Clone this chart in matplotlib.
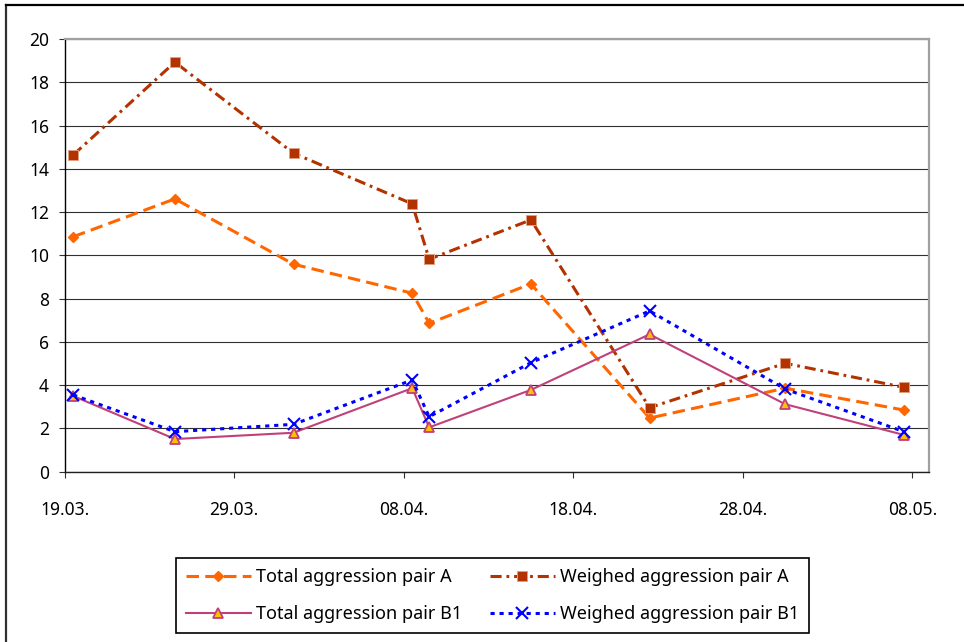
import datetime as dt
import matplotlib
matplotlib.use("Agg")
import matplotlib.pyplot as plt
from matplotlib.lines import Line2D

# ---------------- data ----------------
dates = ["2007-03-19", "2007-03-25", "2007-04-01", "2007-04-08", "2007-04-09",
         "2007-04-15", "2007-04-22", "2007-04-30", "2007-05-07"]
total_a = [10.86, 12.61, 9.59, 8.25, 6.86, 8.68, 2.48, 3.86, 2.85]
weighed_a = [14.64, 18.93, 14.72, 12.38, 9.82, 11.64, 2.96, 5.01, 3.90]
total_b1 = [3.50, 1.51, 1.80, 3.86, 2.05, 3.78, 6.35, 3.12, 1.70]
weighed_b1 = [3.55, 1.85, 2.19, 4.24, 2.54, 5.04, 7.43, 3.82, 1.85]
tick_dates = ["2007-03-19", "2007-03-29", "2007-04-08", "2007-04-18",
              "2007-04-28", "2007-05-08"]
tick_labels = ["19.03.", "29.03.", "08.04.", "18.04.", "28.04.", "08.05."]
x_start, x_end = "2007-03-19", "2007-05-09"
labels = ["Total aggression pair A", "Weighed aggression pair A",
          "Total aggression pair B1", "Weighed aggression pair B1"]
y_ticks = [0, 2, 4, 6, 8, 10, 12, 14, 16, 18, 20]

# ---------------- style ----------------
plt.rcParams['font.family'] = ['Noto Sans', 'DejaVu Sans']
plt.rcParams['lines.scale_dashes'] = False

def d(s):
    return dt.datetime.strptime(s, "%Y-%m-%d")

# points sit in the middle of their day (Excel date axis)
xs = [d(s) + dt.timedelta(hours=12) for s in dates]

fig = plt.figure(figsize=(9.64, 6.42), dpi=100)
W, H = 964, 642
ax = fig.add_axes([64.7 / W, 1 - 471.7 / H, (929.3 - 64.7) / W, (471.7 - 39) / H])

ax.set_ylim(0, 20)
ax.set_xlim(d(x_start), d(x_end))
ax.set_yticks(y_ticks)
ax.set_xticks([d(s) for s in tick_dates])
ax.set_xticklabels(tick_labels)

ax.yaxis.grid(True, color='#303030', linewidth=0.8)
ax.set_axisbelow(True)

ax.spines['left'].set_color('black')
ax.spines['bottom'].set_color('#202020')
ax.spines['left'].set_linewidth(1.0)
ax.spines['bottom'].set_linewidth(1.0)
ax.spines['top'].set_color('#A0A0A0')
ax.spines['right'].set_color('#A0A0A0')
ax.spines['top'].set_linewidth(1.6)
ax.spines['right'].set_linewidth(1.6)

ax.tick_params(axis='x', direction='out', length=4.3, width=0.8, color='#303030',
               pad=16.5, labelsize=12.5)
ax.tick_params(axis='y', direction='out', length=4.3, width=0.8, color='#303030',
               pad=7, labelsize=12.5)

l1, = ax.plot(xs, total_a, color='#FF6600', lw=2.2, dashes=(9, 4.5),
              marker='D', ms=5.2, mfc='#FF6600', mec='#FF6600', label=labels[0])
l2, = ax.plot(xs, weighed_a, color='#B33300', lw=2.2, dashes=(8, 3.5, 2, 3.5),
              marker='s', ms=6.6, mfc='#B33300', mec='#E0A080', mew=0.7,
              label=labels[1])
l3, = ax.plot(xs, total_b1, color='#C0407A', lw=1.5, linestyle='-',
              marker='^', ms=7.5, mfc='#FFC000', mec='#C0407A', mew=1.3,
              label=labels[2])
l4, = ax.plot(xs, weighed_b1, color='#0000FF', lw=2.2, dashes=(3, 3.5),
              marker='x', ms=8, mec='#0000FF', mew=1.5, label=labels[3])

for ln in (l1, l2, l3, l4):
    ln.set_clip_on(False)

# legend filled column-wise -> order so rows read A / B1
leg = fig.legend(handles=[l1, l3, l2, l4],
                 labels=[labels[0], labels[2], labels[1], labels[3]], ncol=2,
                 loc='upper left', bbox_to_anchor=(176 / W, 1 - 558.3 / H),
                 borderaxespad=0, fontsize=13, frameon=True, fancybox=False,
                 framealpha=1, edgecolor='black', borderpad=0.55,
                 handlelength=3.6, handletextpad=0.3, columnspacing=1.5,
                 labelspacing=1.05, numpoints=1)
leg.get_frame().set_linewidth(1.2)

# outer chart frame (left & top edges visible)
fig.add_artist(Line2D([6 / W, 6 / W], [0, 1 - 5 / H], transform=fig.transFigure,
                      color='#303030', lw=1.6))
fig.add_artist(Line2D([6 / W, 1], [1 - 5 / H, 1 - 5 / H], transform=fig.transFigure,
                      color='black', lw=1.6))

fig.savefig("out.png", dpi=100)
